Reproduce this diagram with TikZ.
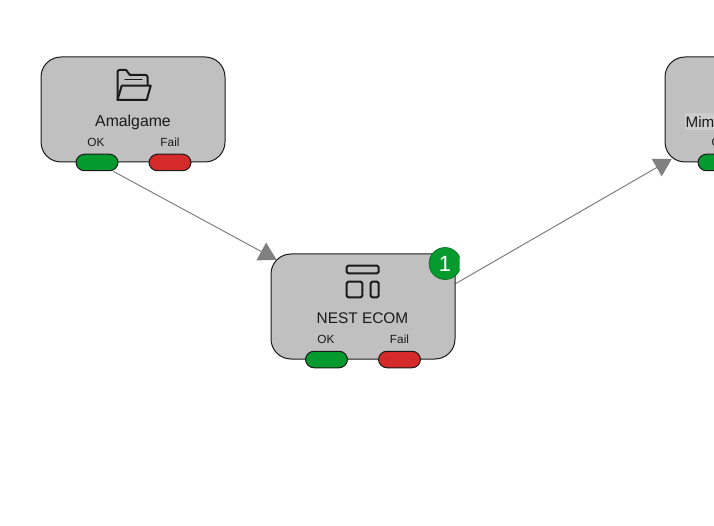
\documentclass[tikz,border=0pt]{standalone}
\usepackage{fontspec}
\setmainfont{Liberation Sans}
\usetikzlibrary{arrows.meta}
\pgfdeclarelayer{links}
\pgfsetlayers{links,main}
\definecolor{boxgray}{HTML}{C0C0C0}
\definecolor{okgreen}{HTML}{049A2E}
\definecolor{failred}{HTML}{D42A2A}
\definecolor{linkgray}{HTML}{808080}
\definecolor{ink}{HTML}{1A1A1A}
\tikzset{
  x=1pt,y=-1pt,
  card/.style={draw=ink,line width=1pt,fill=boxgray,rounded corners=20pt,minimum width=184pt,minimum height=105pt,inner sep=0pt},
  okpill/.style={draw=ink,line width=1pt,fill=okgreen,rounded corners=8.5pt,minimum width=42pt,minimum height=16.5pt,inner sep=0pt},
  failpill/.style={okpill,fill=failred},
  title/.style={font=\fontsize{15.8pt}{17pt}\selectfont,text=ink,inner sep=0pt},
  small/.style={font=\fontsize{11.8pt}{13pt}\selectfont,text=ink,inner sep=0pt},
  icon/.style={draw=ink,line width=2pt,line join=round,line cap=round},
  link/.style={draw=linkgray,line width=1pt,-{Triangle[length=17.5pt,width=20pt,fill=linkgray]}},
  badge/.style={circle,fill=okgreen,draw=okgreen!70!black,line width=.6pt,minimum size=32pt,inner sep=0pt,text=white,font=\fontsize{22pt}{24pt}\selectfont}
}
\begin{document}
\begin{tikzpicture}
\useasboundingbox (0,0) rectangle (714,526);
\clip (0,0) rectangle (714,526);
% cards
\node[card] (amal) at (133,109.5) {};
\node[card] (nest) at (363,306.5) {};
\node[card] (mim) at (757,109.5) {};
\coordinate (nestout) at (455,284);
% Amalgame
\node[okpill] (amalok) at (97,162.5) {};
\node[failpill] (amalfail) at (170,162.5) {};
\node[title] (amaltitle) at (133,122) {Amalgame};
\node[small] (amalokl) at (96,142.5) {OK};
\node[small] (amalfaill) at (170,142.5) {Fail};
\draw[icon] (117.5,100) -- (117.5,72) arc[start angle=180,end angle=270,radius=2] -- (126,70) -- (130,75) -- (145.5,75) arc[start angle=270,end angle=360,radius=2] -- (147.5,85);
\draw[icon,line width=1.3pt] (125,79.5) -- (142,79.5);
\draw[icon] (117.5,100) -- (121.7,85.7) -- (150.7,85.7) -- (146.7,100) -- cycle;
% NEST ECOM
\node[okpill] (nestok) at (326.5,359.5) {};
\node[failpill] (nestfail) at (399.5,359.5) {};
\node[title,font=\fontsize{15.4pt}{17pt}\selectfont] (nesttitle) at (362.5,318) {NEST ECOM};
\node[small] (nestokl) at (326,339.5) {OK};
\node[small] (nestfaill) at (399.5,339.5) {Fail};
\draw[icon,rounded corners=1.5pt] (346.7,265.7) rectangle (378.7,273.3);
\draw[icon,rounded corners=1.5pt] (346.7,281.7) rectangle (362.3,297.3);
\draw[icon,rounded corners=1.5pt] (370.7,281.7) rectangle (378.7,297.3);
\begin{scope}
\clip (420,240) rectangle (459.5,290);
\node[badge] (nestbadge) at (445,263.5) {1};
\end{scope}
% Mim
\node[okpill] (mimok) at (719,162.5) {};
\node[title,font=\fontsize{15.2pt}{17pt}\selectfont,fill=boxgray!80!white,inner xsep=1pt,inner ysep=3pt,anchor=west] (mimtitle) at (684.5,121.5) {Mim};
\node[small,anchor=west] (mimokl) at (711.5,142.5) {OK};
% connectors, beneath the cards
\begin{pgfonlayer}{links}
\fill[white] (0,0) rectangle (714,526);
\draw[link,shorten >=-7pt] (amalok) -- (nest);
\draw[link,shorten >=-7.4pt] (nestout) -- (mim);
\end{pgfonlayer}
\end{tikzpicture}
\end{document}
